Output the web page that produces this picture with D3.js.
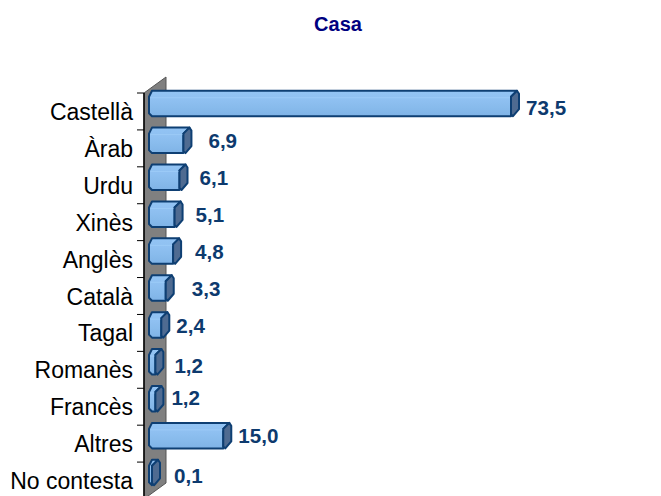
<!DOCTYPE html>
<html><head><meta charset="utf-8">
<script src="https://cdn.jsdelivr.net/npm/d3@7/dist/d3.min.js"></script>
<style>html,body{margin:0;padding:0;background:#fff;overflow:hidden}svg{display:block}</style>
</head><body><svg id="c" width="661" height="496"></svg>
<script>
const categories = ["Castellà","Àrab","Urdu","Xinès","Anglès","Català","Tagal","Romanès","Francès","Altres","No contesta"];
const values = [73.5,6.9,6.1,5.1,4.8,3.3,2.4,1.2,1.2,15.0,0.1];
const valueLabels = ["73,5","6,9","6,1","5,1","4,8","3,3","2,4","1,2","1,2","15,0","0,1"];
const titleText = "Casa";

// hand-placed label nudges seen in the original (dx, dy from the bar end)
const nudgeX = [7,17,12,13,14,18,7,11,8,7,16];
const nudgeY = [5,1,1,1,1,1,1,4,-1,0,3];

const svg = d3.select("#c");
const y = d3.scaleBand().domain(categories).range([93,499]);
const x = d3.scaleLinear().domain([0,73.5]).range([149.5,511]);
const depth = 22, rise = 16, barH = 25.5, lift = 8, capW = 8, x0 = 149;

const defs = svg.append("defs");
const g = defs.append("linearGradient").attr("id","bar").attr("x1",0).attr("y1",0).attr("x2",0).attr("y2",1);
[[0,"#93c4f4"],[0.35,"#8fc0f1"],[0.65,"#88bbec"],[1,"#7fb3e6"]].forEach(s=>g.append("stop").attr("offset",s[0]).attr("stop-color",s[1]));

const xa = 144;
const [yTop,yBot] = y.range();
// wall
svg.append("path").attr("d",d3.line()([[xa,yTop],[xa+depth,yTop-rise],[xa+depth,yBot-rise],[xa,yBot]])+"Z")
  .attr("fill","#808080").attr("stroke","#555").attr("stroke-width",1);
// axis and ticks
svg.append("line").attr("x1",xa).attr("x2",xa).attr("y1",yTop).attr("y2",yBot).attr("stroke","#000").attr("stroke-width",1.5);
svg.selectAll(".tick").data(categories).join("line").attr("class","tick")
  .attr("x1",xa-7).attr("x2",xa).attr("y1",d=>y(d)).attr("y2",d=>y(d)).attr("stroke","#000").attr("stroke-width",1);

// category labels
svg.selectAll(".cat").data(categories).join("text").attr("class","cat")
  .attr("x",133).attr("y",d=>y(d)+y.bandwidth()/2+8.5).attr("text-anchor","end")
  .attr("font-family","Liberation Sans").attr("font-size",23).attr("fill","#000").text(d=>d);

const cy = d=>y(d)+y.bandwidth()/2-lift;
const bars = svg.selectAll(".b").data(categories).join("g").attr("class","b");
bars.append("path").attr("d",(d,i)=>{
  const t=cy(d)-barH/2,b=cy(d)+barH/2,r=Math.max(x(values[i]),x0+3);
  return d3.line()([[x0+3,t],[r+capW-2,t],[r,t+6],[r,b],[x0+3,b],[x0,b-3],[x0,t+6]])+"Z";
}).attr("fill","url(#bar)").attr("stroke","#0e3f73").attr("stroke-width",2).attr("stroke-linejoin","round");
bars.append("line").attr("x1",x0+1.5).attr("x2",(d,i)=>Math.max(x(values[i]),x0+1.5)).attr("y1",d=>cy(d)-barH/2+7).attr("y2",d=>cy(d)-barH/2+7)
  .attr("stroke","#9ccbf7").attr("stroke-width",1);
bars.append("path").attr("d",(d,i)=>{
  const t=cy(d)-barH/2,b=cy(d)+barH/2,r=Math.max(x(values[i]),x0+3);
  return d3.line()([[r,t+6],[r+capW-2,t],[r+capW,t+3],[r+capW,b-7],[r+2,b],[r,b-2]])+"Z";
}).attr("fill","#4f6b91").attr("stroke","#0e3f73").attr("stroke-width",2).attr("stroke-linejoin","round");

// value labels
svg.selectAll(".val").data(categories).join("text").attr("class","val")
  .attr("x",(d,i)=>x(values[i])+capW+nudgeX[i]).attr("y",(d,i)=>cy(d)+nudgeY[i]+7)
  .attr("font-family","Liberation Sans").attr("font-weight","bold").attr("font-size",20.6).attr("fill","#0d3a6e")
  .text((d,i)=>valueLabels[i]);

svg.append("text").attr("x",338).attr("y",31).attr("text-anchor","middle")
  .attr("font-family","Liberation Sans").attr("font-weight","bold").attr("font-size",20).attr("fill","#000080").text(titleText);
</script></body></html>
